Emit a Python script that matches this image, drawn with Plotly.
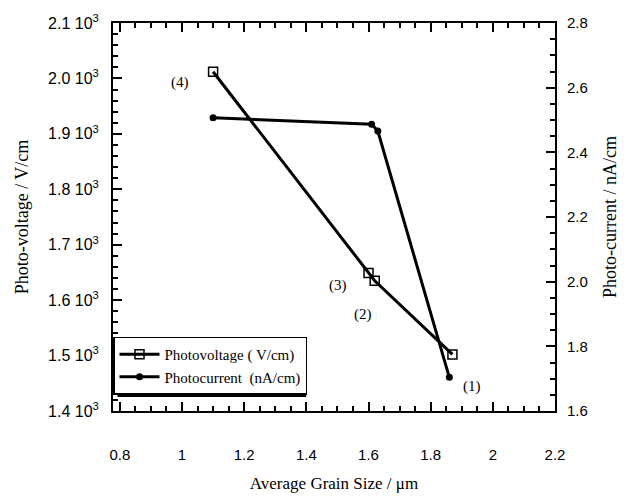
import plotly.graph_objects as go

grain_pv = [1.10, 1.60, 1.62, 1.87]
photovoltage = [2012, 1649, 1635, 1502]
grain_pc = [1.10, 1.61, 1.63, 1.86]
photocurrent = [2.507, 2.487, 2.466, 1.704]

left_vals = [1400, 1500, 1600, 1700, 1800, 1900, 2000, 2100]
left_text = ["1.4 10<sup>3</sup>", "1.5 10<sup>3</sup>", "1.6 10<sup>3</sup>", "1.7 10<sup>3</sup>",
             "1.8 10<sup>3</sup>", "1.9 10<sup>3</sup>", "2.0 10<sup>3</sup>", "2.1 10<sup>3</sup>"]
right_vals = [1.6, 1.8, 2.0, 2.2, 2.4, 2.6, 2.8]
right_text = ["1.6", "1.8", "2.0", "2.2", "2.4", "2.6", "2.8"]
x_vals = [0.8, 1.0, 1.2, 1.4, 1.6, 1.8, 2.0, 2.2]
x_text = ["0.8", "1", "1.2", "1.4", "1.6", "1.8", "2", "2.2"]

labels = ["(4)", "(3)", "(2)", "(1)"]
label_x = [0.994, 1.503, 1.581, 1.932]
label_y = [1993, 1626, 1575, 1444]

serif = "Liberation Serif"
sans = "Liberation Sans"

XR = [0.778, 2.2]
YR = [1400, 2100]
Y2R = [1.6, 2.8]
CLEAR = "rgba(0,0,0,0)"

x_minor = [round(0.8 + 0.05 * i, 3) for i in range(29)]
left_minor = [1400 + 20 * i for i in range(36)]
right_minor = [round(1.6 + 0.05 * i, 3) for i in range(25)]

fig = go.Figure()
fig.add_trace(go.Scatter(x=grain_pv, y=photovoltage, mode="lines+markers",
                         name="Photovoltage ( V/cm)",
                         line=dict(color="black", width=3),
                         marker=dict(symbol="square-open", size=9, color="black", line=dict(width=1.5))))
fig.add_trace(go.Scatter(x=grain_pc, y=photocurrent, mode="lines+markers", yaxis="y2",
                         name="Photocurrent  (nA/cm)",
                         line=dict(color="black", width=3),
                         marker=dict(symbol="circle", size=7, color="black")))
fig.add_trace(go.Scatter(x=[], y=[], xaxis="x2", yaxis="y3", showlegend=False, hoverinfo="skip"))
fig.add_trace(go.Scatter(x=[], y=[], xaxis="x2", yaxis="y4", showlegend=False, hoverinfo="skip"))

for t, xx, yy in zip(labels, label_x, label_y):
    fig.add_annotation(x=xx, y=yy, xref="x", yref="y", text=t, showarrow=False,
                       font=dict(family=serif, size=15, color="black"))

# legend shadow
fig.add_shape(type="rect", xref="paper", yref="paper", x0=0.01, x1=0.437, y0=0.036, y1=0.18,
              fillcolor="black", line=dict(width=0), layer="above")

minor_common = dict(ticks="inside", ticklen=5, tickwidth=2, tickcolor="black", tickmode="array", showgrid=False)
axis_common = dict(ticks="inside", ticklen=9, tickwidth=2, tickcolor="black",
                   showgrid=False, zeroline=False, showticklabels=False,
                   showline=True, linecolor="black", linewidth=1.5)

fig.update_layout(
    width=632, height=502,
    margin=dict(l=113, r=77, t=20, b=81),
    paper_bgcolor="white", plot_bgcolor="white",
    showlegend=True,
    legend=dict(x=0.0, y=0.192, xanchor="left", yanchor="top",
                bgcolor="white", bordercolor="black", borderwidth=1.5,
                font=dict(family=serif, size=15, color="black"),
                tracegroupgap=0, itemwidth=40),
    xaxis=dict(range=XR, mirror="ticks", tickmode="array", tickvals=x_vals,
               minor=dict(tickvals=x_minor, **minor_common), **axis_common),
    yaxis=dict(range=YR, tickmode="array", tickvals=left_vals,
               minor=dict(tickvals=left_minor, **minor_common), **axis_common),
    yaxis2=dict(range=Y2R, overlaying="y", side="right", anchor="x", tickmode="array", tickvals=right_vals,
                minor=dict(tickvals=right_minor, **minor_common), **axis_common),
    xaxis2=dict(range=XR, overlaying="x", side="bottom", anchor="y3", tickmode="array",
                tickvals=x_vals, ticktext=x_text, ticks="outside", ticklen=30, tickcolor=CLEAR,
                showgrid=False, zeroline=False, showline=False,
                tickfont=dict(family=sans, size=15, color="black"),
                title=dict(text="Average Grain Size / μm", font=dict(family=serif, size=17, color="black"),
                           standoff=15)),
    yaxis3=dict(range=YR, overlaying="y", side="left", anchor="x2", tickmode="array",
                tickvals=left_vals, ticktext=left_text, ticks="outside", ticklen=10, tickcolor=CLEAR,
                showgrid=False, zeroline=False, showline=False,
                tickfont=dict(family=sans, size=16, color="black"),
                title=dict(text="Photo-voltage / V/cm", font=dict(family=serif, size=18, color="black"),
                           standoff=14)),
    yaxis4=dict(range=Y2R, overlaying="y", side="right", anchor="x2", tickmode="array",
                tickvals=right_vals, ticktext=right_text, ticks="outside", ticklen=8, tickcolor=CLEAR,
                showgrid=False, zeroline=False, showline=False,
                tickfont=dict(family=sans, size=15, color="black"),
                title=dict(text="Photo-current / nA/cm", font=dict(family=serif, size=18, color="black"),
                           standoff=16)),
)

fig.write_html("out.html")
